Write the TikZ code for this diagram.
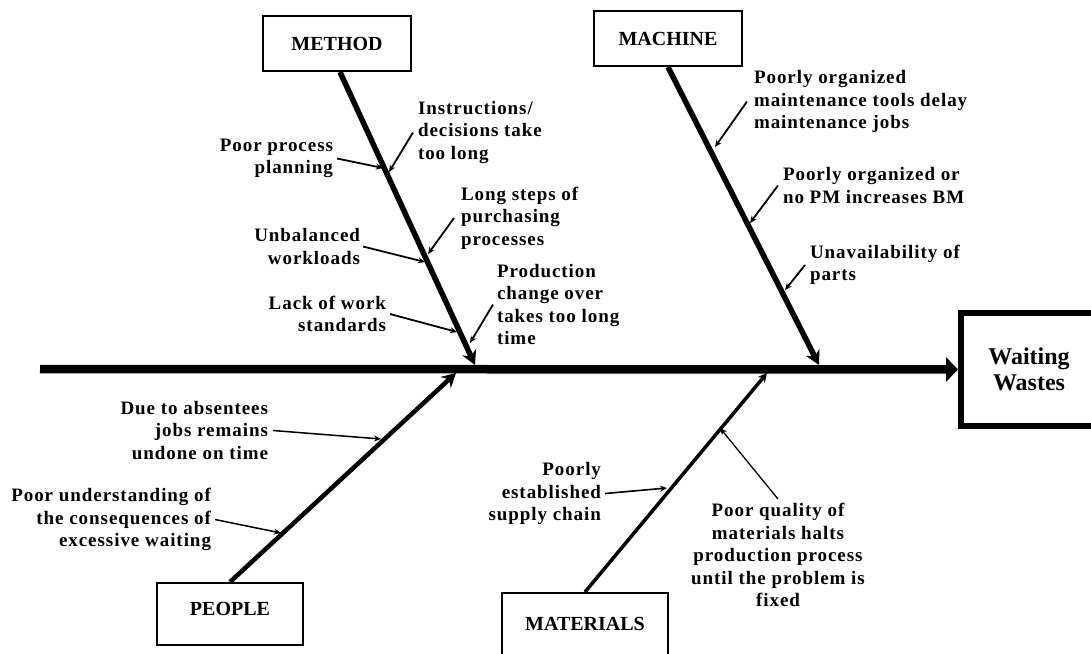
\documentclass[tikz,border=0pt]{standalone}
\usepackage{fontspec}
\setmainfont{Liberation Serif}
\newfontfamily\causefont{Liberation Serif}[LetterSpace=5]
\usetikzlibrary{arrows.meta}
\begin{document}
\begin{tikzpicture}[x=1pt,y=-1pt,
  catbox/.style={draw, line width=2pt, inner sep=0pt,
    font=\fontsize{20}{24}\selectfont\bfseries},
  goalbox/.style={draw, line width=6pt, inner sep=0pt, align=center,
    font=\fontsize{24}{26}\selectfont\bfseries},
  cause/.style={inner sep=0pt, outer sep=0pt,
    font=\causefont\fontsize{19}{22.6}\selectfont\bfseries},
  spine/.style={line width=8.5pt, -{Triangle[length=12pt,width=24pt]}},
  bone/.style={line width=5.5pt, -{Stealth[length=14pt,width=15pt]}},
  twig/.style={line width=1.8pt, -{Stealth[length=7pt,width=6pt]}},
]
\useasboundingbox (0,0) rectangle (1091,653);

% effect box and main spine
\node[goalbox, minimum width=136pt, minimum height=113pt] (goal) at (1029,369.5) {Waiting\\Wastes};
\coordinate (tail) at (40,369);
\draw[spine] (tail) -- (goal.west);

% category boxes
\node[catbox, minimum width=148pt, minimum height=55pt] (method) at (337,43.5) {METHOD};
\node[catbox, minimum width=148pt, minimum height=55pt] (machine) at (668,38.5) {MACHINE};
\node[catbox, minimum width=146pt, minimum height=62pt, text depth=11pt] (people) at (230,614) {PEOPLE};
\node[catbox, minimum width=166pt, minimum height=62pt] (materials) at (585,624) {MATERIALS};

% bone tips on the spine
\coordinate (m-tip) at (475,365);
\coordinate (c-tip) at (819,365);
\coordinate (p-tip) at (456,373);
\coordinate (t-tip) at (767,373);

\draw[bone] ([xshift=3pt]method.south) -- (m-tip);
\draw[bone] (machine.south) -- (c-tip);
\draw[bone, line width=4.5pt] (people.north) -- (p-tip);
\draw[line width=3.5pt, -{Stealth[length=9pt,width=9pt]}] (materials.north) -- (t-tip);

% causes: method
\node[cause, anchor=east, align=right] (pp) at (333,158.5) {Poor process\\planning};
\node[cause, anchor=west, align=left] (ins) at (418,132.5) {Instructions/\\decisions take\\too long};
\node[cause, anchor=west, align=left] (ls) at (461,218) {Long steps of\\purchasing\\processes};
\node[cause, anchor=east, align=right] (ub) at (360,246.5) {Unbalanced\\workloads};
\node[cause, anchor=east, align=right] (lw) at (386,314) {Lack of work\\standards};
\node[cause, anchor=west, align=left] (pc) at (497,304.5) {Production\\change over\\takes too long\\time};

% causes: machine
\node[cause, anchor=west, align=left] (mt) at (754,101.5) {Poorly organized\\maintenance tools delay\\maintenance jobs};
\node[cause, anchor=west, align=left] (pm) at (783,185.5) {Poorly organized or\\no PM increases BM};
\node[cause, anchor=west, align=left] (ua) at (810,265) {Unavailability of\\parts};

% causes: people
\node[cause, anchor=east, align=right] (da) at (268,430.5) {Due to absentees\\jobs remains\\undone on time};
\node[cause, anchor=east, align=right] (pu) at (211,519.5) {Poor understanding of\\the consequences of\\excessive waiting};

% causes: materials
\node[cause, anchor=east, align=right] (ps) at (601,493.5) {Poorly\\established\\supply chain};
\node[cause, align=center] (pq) at (778,555) {Poor quality of\\materials halts\\production process\\until the problem is\\fixed};

% arrow ends on the bones
\coordinate (t-pp) at (383,168);
\coordinate (t-ins) at (389,172);
\coordinate (t-ls) at (428,254);
\coordinate (t-ub) at (425,262);
\coordinate (t-lw) at (457,332);
\coordinate (t-pc) at (470,343);
\coordinate (t-mt) at (715,147);
\coordinate (t-pm) at (750,223);
\coordinate (t-ua) at (785,290);
\coordinate (t-da) at (381,439);
\coordinate (t-pu) at (281,533);
\coordinate (t-ps) at (667,488);
\coordinate (t-pq) at (720,428);

\draw[twig] ([xshift=4pt]pp.east) -- (t-pp);
\draw[twig] ([xshift=-5pt]ins.west) -- (t-ins);
\draw[twig] ([xshift=-7pt]ls.west) -- (t-ls);
\draw[twig] ([xshift=3pt]ub.east) -- (t-ub);
\draw[twig] ([xshift=4pt]lw.east) -- (t-lw);
\draw[twig] ([xshift=-4pt]pc.west) -- (t-pc);
\draw[twig] ([xshift=-7pt]mt.west) -- (t-mt);
\draw[twig] ([xshift=-5pt]pm.west) -- (t-pm);
\draw[twig] ([xshift=-5pt]ua.west) -- (t-ua);
\draw[twig, line width=1.5pt] ([xshift=5pt]da.east) -- (t-da);
\draw[twig, line width=1.5pt] ([xshift=4pt]pu.east) -- (t-pu);
\draw[twig, line width=1.6pt] ([xshift=4pt]ps.east) -- (t-ps);
\draw[twig, line width=1.3pt] ([yshift=4pt]pq.north) -- (t-pq);
\end{tikzpicture}
\end{document}
